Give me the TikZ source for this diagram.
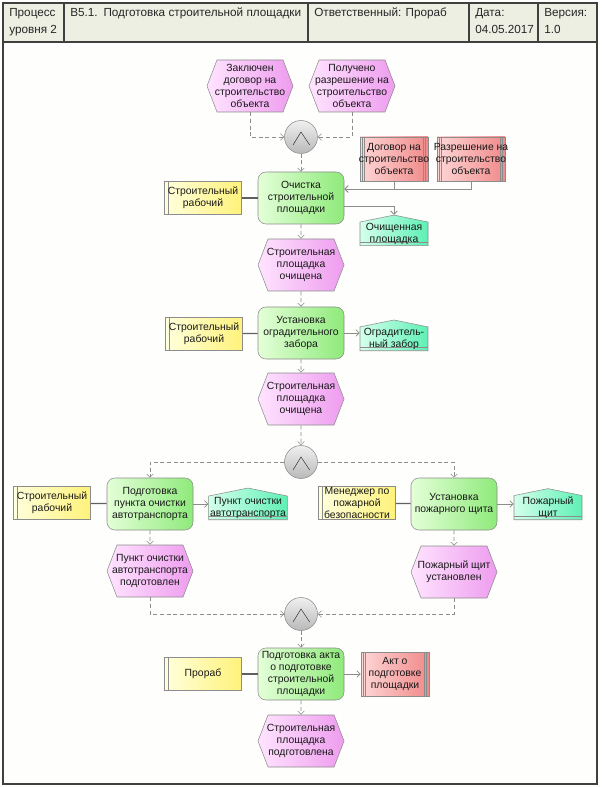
\documentclass[tikz,border=0pt]{standalone}
\usepackage{fontspec}
\setmainfont{Liberation Sans}
\usetikzlibrary{shapes.symbols,arrows.meta}

\definecolor{frameline}{HTML}{404040}
\definecolor{headbg}{HTML}{EEEFE3}
\definecolor{pagebg}{HTML}{FEFEFC}
\definecolor{edgegray}{HTML}{8C8C8C}
\definecolor{assocgray}{HTML}{606060}
\definecolor{evL}{HTML}{FFE4FF}
\definecolor{evR}{HTML}{EE9CEE}
\definecolor{fnL}{HTML}{E4FFD8}
\definecolor{fnR}{HTML}{8EEA7A}
\definecolor{orgL}{HTML}{FFFFDC}
\definecolor{orgR}{HTML}{FFF27A}
\definecolor{docL}{HTML}{FFD6D6}
\definecolor{docR}{HTML}{F08A8A}
\definecolor{outL}{HTML}{D4FFEC}
\definecolor{outR}{HTML}{5EF0B4}

\tikzset{
  box/.style={draw=edgegray, align=center, inner sep=1pt, text=black!90,
    font=\fontsize{7.8}{8.8}\selectfont},
  event/.style={box, signal, signal to=east and west, signal pointer angle=138,
    inner xsep=-4.5pt, minimum width=64.5pt, minimum height=39pt,
    left color=evL, right color=evR},
  func/.style={box, rectangle, rounded corners=6pt, minimum width=64.5pt,
    minimum height=39pt, left color=fnL, right color=fnR},
  orgunit/.style={box, rectangle, minimum width=57.75pt, minimum height=24.75pt,
    left color=orgL, right color=orgR,
    path picture={\draw[edgegray,thin]
      ([xshift=2.5pt]path picture bounding box.north west) --
      ([xshift=2.5pt]path picture bounding box.south west);}},
  document/.style={box, rectangle, inner xsep=-2.5pt, minimum width=51pt,
    minimum height=33pt, left color=docL, right color=docR,
    path picture={\foreach \dx in {1.75pt,3.5pt}{
      \draw[edgegray,thin]
        ([xshift=\dx]path picture bounding box.north west) --
        ([xshift=\dx]path picture bounding box.south west);
      \draw[edgegray,thin]
        ([xshift=-\dx]path picture bounding box.north east) --
        ([xshift=-\dx]path picture bounding box.south east);}}},
  carrier/.style={box, signal, signal to=north, signal from=nowhere,
    signal pointer angle=157, minimum width=51pt, minimum height=20pt,
    left color=outL, right color=outR,
    path picture={\draw[edgegray,thin]
      ([yshift=2.25pt]path picture bounding box.south west) --
      ([yshift=2.25pt]path picture bounding box.south east);}},
  andgate/.style={circle, draw=edgegray, minimum size=24.75pt, inner sep=0pt,
    top color=gray!12, bottom color=gray!55,
    path picture={\draw[gray!40!black]
      ([shift={(-6pt,-6pt)}]path picture bounding box.center) --
      ([shift={(0pt,3.75pt)}]path picture bounding box.center) --
      ([shift={(6.5pt,-6pt)}]path picture bounding box.center);}},
  flow/.style={draw=edgegray, dash pattern=on 3pt off 2pt,
    -{Straight Barb[length=2.5pt,width=5pt]}},
  infl/.style={draw=edgegray, line width=0.6pt,
    -{Straight Barb[length=2.5pt,width=5pt]}},
  assoc/.style={draw=assocgray, line width=0.9pt},
  headtext/.style={anchor=north west, align=left, inner sep=0pt, text=black!85,
    font=\fontsize{8.8}{12.75}\selectfont},
}

\begin{document}
\begin{tikzpicture}[x=0.75pt,y=-0.75pt]
  \useasboundingbox (0,0) rectangle (601,787);
  \fill[pagebg] (0,0) rectangle (601,787);

  % header
  \fill[headbg] (3,3) rectangle (597,42);
  \draw[frameline, line width=1.1pt] (3,3) rectangle (597,784);
  \draw[frameline, line width=1.1pt] (3,42) -- (597,42);
  \foreach \hx in {64,308,469,538}
    \draw[frameline, line width=1.1pt] (\hx,3) -- (\hx,42);
  \draw[frameline, line width=2pt] (3,784) -- (597,784);
  \node[headtext] (h1) at (9,8) {Процесс\\уровня 2};
  \node[headtext] (h2) at (70,8) {В5.1.\enspace Подготовка строительной площадки};
  \node[headtext] (h3) at (314,8) {Ответственный: Прораб};
  \node[headtext] (h4) at (475,8) {Дата:\\04.05.2017};
  \node[headtext] (h5) at (544,8) {Версия:\\1.0};

  % nodes
  \node[event] (ev1) at (250,86) {Заключен\\договор на\\строительство\\объекта};
  \node[event] (ev2) at (352,86) {Получено\\разрешение на\\строительство\\объекта};
  \node[andgate] (and1) at (301,137) {};
  \node[func] (fn1) at (301,198) {Очистка\\строительной\\площадки};
  \node[orgunit] (org1) at (203,198) {Строительный\\рабочий};
  \node[document] (doc1) at (394,159) {Договор на\\строительство\\объекта};
  \node[document] (doc2) at (471,159) {Разрешение на\\строительство\\объекта};
  \node[carrier, anchor=south] (out1) at (394,246) {Очищенная\\площадка};
  \node[event] (ev3) at (301,265) {Строительная\\площадка\\очищена};
  \node[func] (fn2) at (301,333) {Установка\\оградительного\\забора};
  \node[orgunit] (org2) at (204,334) {Строительный\\рабочий};
  \node[carrier, anchor=south] (out2) at (394,351) {Оградитель-\\ный забор};
  \node[event] (ev4) at (301,399) {Строительная\\площадка\\очищена};
  \node[andgate] (and2) at (301,462) {};
  \node[func] (fn3) at (150,504) {Подготовка\\пункта очистки\\автотранспорта};
  \node[orgunit] (org3) at (52,503) {Строительный\\рабочий};
  \node[carrier, anchor=south] (out3) at (248,520) {Пункт очистки\\автотранспорта};
  \node[event] (ev5) at (150,571) {Пункт очистки\\автотранспорта\\подготовлен};
  \node[func] (fn4) at (454,504) {Установка\\пожарного щита};
  \node[orgunit] (org4) at (357,503) {Менеджер по\\пожарной\\безопасности};
  \node[carrier, anchor=south] (out4) at (548,520) {Пожарный\\щит};
  \node[event] (ev6) at (454,572) {Пожарный щит\\установлен};
  \node[andgate] (and3) at (301,614) {};
  \node[func] (fn5) at (301,674) {Подготовка акта\\о подготовке\\строительной\\площадки};
  \node[orgunit] (org5) at (203,674) {Прораб};
  \node[document] (doc3) at (395,674) {Акт о\\подготовке\\площадки};
  \node[event] (ev7) at (301,741) {Строительная\\площадка\\подготовлена};

  % connectors
  \draw[flow] (ev1.south) |- (and1.west);
  \draw[flow] (ev2.south) |- (and1.east);
  \draw[flow] (and1) -- (fn1);
  \draw[assoc] (org1) -- (fn1);
  \draw[infl] (doc1.south) |- ([yshift=6.75pt]fn1.east);
  \draw[infl] (doc2.south) |- ([yshift=6.75pt]fn1.east);
  \draw[infl] ([yshift=-6pt]fn1.east) -| (out1.north);
  \draw[flow] (fn1) -- (ev3);
  \draw[flow] (ev3) -- (fn2);
  \draw[assoc] (org2) -- (fn2);
  \draw[infl] (fn2.east) -- (fn2.east -| out2.west);
  \draw[flow] (fn2) -- (ev4);
  \draw[flow] (ev4) -- (and2);
  \draw[flow] (and2.west) -| (fn3.north);
  \draw[flow] (and2.east) -| (fn4.north);
  \draw[assoc] (org3) -- (fn3);
  \draw[infl] (fn3.east) -- (fn3.east -| out3.west);
  \draw[flow] (fn3) -- (ev5);
  \draw[assoc] (org4) -- (fn4);
  \draw[infl] (fn4.east) -- (fn4.east -| out4.west);
  \draw[flow] (fn4) -- (ev6);
  \draw[flow] (ev5.south) |- (and3.west);
  \draw[flow] (ev6.south) |- (and3.east);
  \draw[flow] (and3) -- (fn5);
  \draw[assoc] (org5) -- (fn5);
  \draw[infl] (fn5) -- (doc3);
  \draw[flow] (fn5) -- (ev7);
\end{tikzpicture}
\end{document}
